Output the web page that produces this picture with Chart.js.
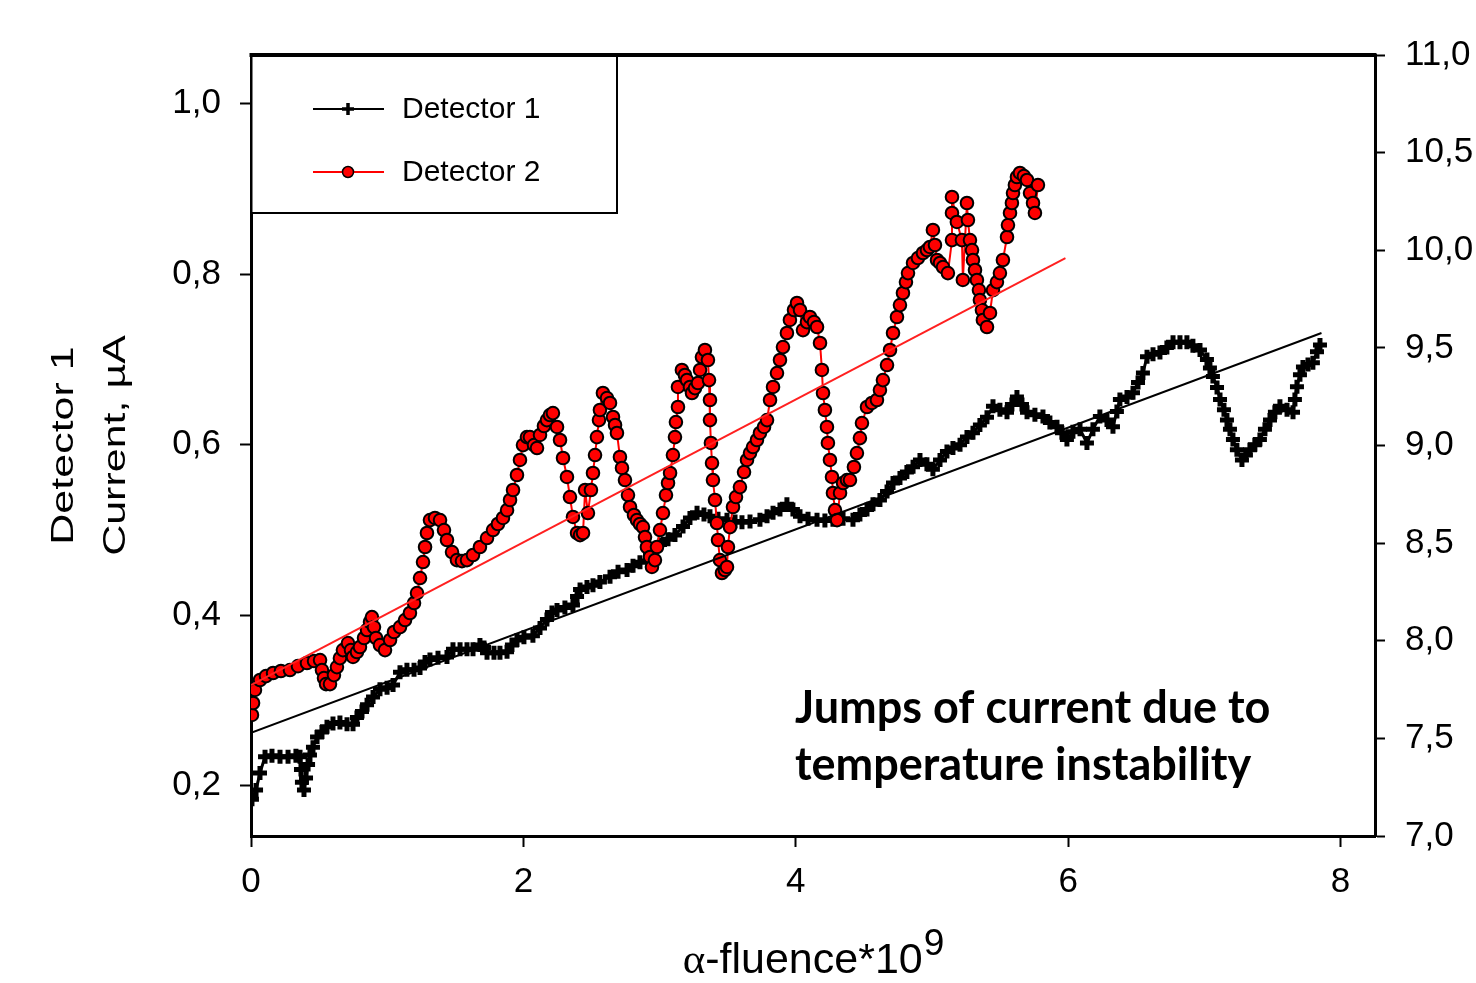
<!DOCTYPE html>
<html>
<head>
<meta charset="utf-8">
<script src="https://cdn.jsdelivr.net/npm/chart.js@4/dist/chart.umd.min.js"></script>
<style>
  html, body { margin: 0; padding: 0; background: #fff; }
  canvas { display: block; }
</style>
</head>
<body>
<canvas id="chart" width="1476" height="983"></canvas>
<script>
// Detector 1 (left axis, black crosses)
const det1X = [0.007,0.037,0.066,0.103,0.154,0.213,0.272,0.330,0.360,0.367,0.374,0.389,0.404,0.419,0.433,0.455,0.485,0.521,0.558,0.602,0.653,0.705,0.749,0.778,0.815,0.852,0.896,0.947,0.999,1.043,1.094,1.145,1.197,1.241,1.278,1.314,1.373,1.439,1.483,1.535,1.586,1.630,1.681,1.711,1.733,1.784,1.828,1.880,1.916,1.953,2.004,2.070,2.122,2.173,2.210,2.247,2.305,2.364,2.394,2.416,2.467,2.511,2.562,2.636,2.695,2.761,2.805,2.856,2.930,3.003,3.062,3.113,3.172,3.223,3.275,3.326,3.370,3.429,3.495,3.554,3.605,3.664,3.737,3.789,3.833,3.884,3.935,3.979,4.031,4.090,4.156,4.214,4.273,4.347,4.420,4.471,4.523,4.567,4.618,4.670,4.714,4.765,4.816,4.861,4.912,4.963,5.007,5.059,5.110,5.154,5.206,5.257,5.301,5.352,5.404,5.448,5.499,5.551,5.587,5.624,5.661,5.698,5.756,5.815,5.866,5.918,5.954,5.991,6.035,6.087,6.138,6.182,6.233,6.285,6.329,6.358,6.380,6.432,6.476,6.513,6.549,6.579,6.623,6.674,6.725,6.770,6.821,6.872,6.916,6.968,7.019,7.041,7.063,7.093,7.115,7.144,7.166,7.188,7.210,7.239,7.276,7.305,7.335,7.371,7.408,7.445,7.482,7.518,7.555,7.607,7.651,7.665,7.680,7.702,7.724,7.761,7.797,7.827,7.849];
const det1Y = [0.184,0.195,0.215,0.234,0.235,0.234,0.234,0.235,0.234,0.219,0.204,0.195,0.209,0.225,0.236,0.245,0.257,0.263,0.269,0.273,0.274,0.272,0.272,0.280,0.287,0.295,0.304,0.313,0.315,0.318,0.333,0.336,0.336,0.338,0.345,0.348,0.350,0.351,0.360,0.360,0.360,0.360,0.365,0.362,0.356,0.356,0.356,0.357,0.365,0.371,0.374,0.376,0.385,0.395,0.403,0.406,0.409,0.412,0.422,0.430,0.433,0.435,0.439,0.445,0.451,0.453,0.458,0.462,0.471,0.483,0.489,0.494,0.504,0.514,0.520,0.518,0.516,0.513,0.512,0.510,0.509,0.510,0.512,0.516,0.520,0.524,0.530,0.524,0.516,0.513,0.512,0.511,0.512,0.513,0.512,0.518,0.524,0.530,0.535,0.545,0.555,0.561,0.568,0.574,0.582,0.577,0.571,0.582,0.592,0.596,0.600,0.609,0.614,0.623,0.632,0.645,0.641,0.638,0.647,0.656,0.647,0.638,0.635,0.633,0.626,0.621,0.614,0.606,0.615,0.618,0.602,0.618,0.633,0.629,0.621,0.639,0.653,0.656,0.661,0.673,0.684,0.703,0.706,0.708,0.714,0.720,0.720,0.720,0.716,0.711,0.700,0.690,0.680,0.667,0.653,0.641,0.629,0.618,0.606,0.594,0.582,0.588,0.594,0.600,0.606,0.618,0.629,0.638,0.645,0.641,0.638,0.653,0.668,0.682,0.691,0.694,0.696,0.709,0.717];

// Detector 2 (right axis, red circles)
const det2X = [0.007,0.015,0.029,0.066,0.110,0.162,0.220,0.286,0.345,0.411,0.463,0.507,0.521,0.536,0.551,0.580,0.609,0.631,0.653,0.675,0.712,0.734,0.749,0.778,0.800,0.830,0.852,0.874,0.888,0.903,0.918,0.947,0.984,1.021,1.050,1.094,1.131,1.167,1.197,1.219,1.241,1.263,1.278,1.292,1.314,1.351,1.388,1.417,1.439,1.476,1.512,1.549,1.586,1.630,1.681,1.733,1.777,1.813,1.850,1.880,1.902,1.924,1.953,1.975,1.997,2.026,2.048,2.078,2.100,2.122,2.151,2.173,2.195,2.217,2.247,2.269,2.291,2.320,2.342,2.364,2.394,2.416,2.438,2.453,2.474,2.496,2.511,2.526,2.540,2.555,2.562,2.584,2.614,2.636,2.658,2.673,2.687,2.709,2.724,2.746,2.768,2.783,2.812,2.834,2.856,2.878,2.893,2.907,2.930,2.944,2.966,2.981,3.003,3.025,3.047,3.062,3.077,3.098,3.113,3.120,3.135,3.135,3.164,3.186,3.201,3.223,3.238,3.260,3.282,3.297,3.311,3.333,3.355,3.363,3.370,3.370,3.377,3.385,3.392,3.407,3.421,3.429,3.443,3.458,3.480,3.495,3.502,3.517,3.539,3.561,3.590,3.620,3.642,3.664,3.686,3.715,3.737,3.767,3.789,3.811,3.833,3.862,3.884,3.906,3.935,3.957,3.987,4.009,4.031,4.053,4.082,4.104,4.134,4.156,4.178,4.192,4.200,4.214,4.229,4.236,4.251,4.266,4.273,4.288,4.303,4.325,4.347,4.376,4.398,4.427,4.449,4.471,4.486,4.523,4.559,4.596,4.618,4.640,4.670,4.692,4.714,4.743,4.765,4.787,4.809,4.824,4.861,4.897,4.934,4.963,4.985,5.007,5.022,5.037,5.059,5.081,5.117,5.147,5.147,5.147,5.183,5.220,5.227,5.257,5.264,5.279,5.294,5.301,5.316,5.330,5.345,5.352,5.367,5.374,5.404,5.426,5.448,5.477,5.499,5.521,5.551,5.558,5.573,5.587,5.595,5.609,5.624,5.646,5.675,5.698,5.720,5.742,5.756,5.778];
const det2Y = [7.620,7.681,7.748,7.799,7.819,7.835,7.845,7.850,7.870,7.886,7.896,7.901,7.850,7.809,7.778,7.778,7.824,7.865,7.911,7.952,7.988,7.952,7.917,7.942,7.968,8.014,8.055,8.096,8.121,8.070,8.014,7.978,7.952,8.004,8.045,8.070,8.106,8.142,8.193,8.244,8.321,8.403,8.480,8.552,8.618,8.629,8.618,8.567,8.516,8.454,8.413,8.408,8.413,8.439,8.480,8.526,8.567,8.598,8.629,8.669,8.721,8.772,8.849,8.926,9.002,9.043,9.043,9.002,8.987,9.054,9.100,9.130,9.156,9.166,9.095,9.028,8.936,8.839,8.736,8.634,8.552,8.541,8.552,8.772,8.654,8.772,8.859,8.951,9.043,9.130,9.182,9.269,9.243,9.218,9.146,9.105,9.064,8.941,8.885,8.823,8.746,8.685,8.644,8.618,8.598,8.582,8.531,8.480,8.429,8.378,8.413,8.480,8.567,8.654,8.746,8.808,8.859,8.951,9.043,9.120,9.197,9.300,9.387,9.361,9.335,9.300,9.269,9.294,9.320,9.387,9.453,9.489,9.438,9.335,9.233,9.130,9.013,8.910,8.823,8.721,8.603,8.516,8.413,8.347,8.362,8.378,8.480,8.582,8.685,8.736,8.787,8.864,8.926,8.961,8.992,9.028,9.064,9.095,9.130,9.233,9.300,9.371,9.438,9.504,9.576,9.643,9.694,9.730,9.694,9.591,9.632,9.658,9.632,9.607,9.525,9.387,9.269,9.182,9.095,9.013,8.926,8.839,8.757,8.669,8.618,8.757,8.808,8.823,8.823,8.890,8.961,9.038,9.115,9.197,9.218,9.233,9.284,9.335,9.412,9.489,9.576,9.658,9.719,9.781,9.837,9.883,9.935,9.960,9.986,10.001,10.017,10.104,10.027,9.950,9.935,9.914,9.883,10.052,10.191,10.273,10.145,10.052,9.848,10.242,10.155,10.052,10.001,9.950,9.899,9.848,9.796,9.745,9.694,9.643,9.607,9.679,9.796,9.837,9.883,9.950,10.068,10.129,10.191,10.242,10.293,10.334,10.375,10.396,10.380,10.360,10.293,10.242,10.191,10.334];

// linear fits
const fit1X = [0, 7.86];
const fit1Y = [0.262, 0.731];
const fit2X = [0, 5.98];
const fit2Y = [7.773, 9.96];

const xTicks = [0, 2, 4, 6, 8];
const leftTicks = [0.2, 0.4, 0.6, 0.8, 1.0];
const rightTicks = [7.0, 7.5, 8.0, 8.5, 9.0, 9.5, 10.0, 10.5, 11.0];

const SANS = "'Liberation Sans', Arial, sans-serif";

function pts(xs, ys) {
  return xs.map((x, i) => ({ x: x, y: ys[i] }));
}
function comma(v) {
  return v.toFixed(1).replace(".", ",");
}
function fixedTicks(list) {
  return (scale) => { scale.ticks = list.map((v) => ({ value: v })); };
}

const extras = {
  id: "extras",
  afterDraw(chart) {
    const ctx = chart.ctx;
    const a = chart.chartArea;
    ctx.save();

    // top frame line
    ctx.strokeStyle = "#000";
    ctx.lineWidth = 4;
    ctx.beginPath();
    ctx.moveTo(a.left - 1.5, a.top);
    ctx.lineTo(a.right + 1.5, a.top);
    ctx.stroke();

    // legend box
    ctx.fillStyle = "#fff";
    ctx.fillRect(a.left + 1.5, a.top + 2, 364, 156);
    ctx.lineWidth = 2;
    ctx.strokeRect(a.left, a.top, 366, 158);

    ctx.font = "30px " + SANS;
    ctx.textBaseline = "middle";
    ctx.textAlign = "left";
    // Detector 1 entry
    ctx.strokeStyle = "#000";
    ctx.lineWidth = 2;
    ctx.beginPath(); ctx.moveTo(313, 109); ctx.lineTo(384, 109); ctx.stroke();
    ctx.lineWidth = 3.5;
    ctx.beginPath(); ctx.moveTo(348, 103); ctx.lineTo(348, 115); ctx.moveTo(342, 109); ctx.lineTo(354, 109); ctx.stroke();
    ctx.fillStyle = "#000";
    ctx.fillText("Detector 1", 402, 110);
    // Detector 2 entry
    ctx.strokeStyle = "#ff0000";
    ctx.lineWidth = 2;
    ctx.beginPath(); ctx.moveTo(313, 172); ctx.lineTo(384, 172); ctx.stroke();
    ctx.beginPath(); ctx.arc(348, 172, 5.5, 0, Math.PI * 2);
    ctx.fillStyle = "#ff0000"; ctx.fill();
    ctx.strokeStyle = "#000"; ctx.lineWidth = 1.5; ctx.stroke();
    ctx.fillStyle = "#000";
    ctx.fillText("Detector 2", 402, 173);

    // left axis title (two lines, rotated)
    ctx.textAlign = "center";
    ctx.textBaseline = "alphabetic";
    ctx.font = "43px " + SANS;
    [["Detector 1", 73], ["Current, \u00b5A", 125]].forEach(([t, bx]) => {
      ctx.save();
      ctx.translate(bx, (a.top + a.bottom) / 2);
      ctx.scale(0.75, 1);
      ctx.rotate(-Math.PI / 2);
      ctx.fillText(t, 0, 0);
      ctx.restore();
    });

    // x axis title with superscript
    ctx.textAlign = "left";
    ctx.font = "43px 'Liberation Serif', serif";
    const wA = ctx.measureText("\u03b1").width;
    ctx.font = "43px " + SANS;
    const wMain = ctx.measureText("-fluence*10").width;
    ctx.font = "37px " + SANS;
    const wSup = ctx.measureText("9").width;
    let x0 = (a.left + a.right) / 2 - (wA + wMain + wSup) / 2;
    ctx.font = "43px 'Liberation Serif', serif";
    ctx.fillText("\u03b1", x0, 973);
    ctx.font = "43px " + SANS;
    ctx.fillText("-fluence*10", x0 + wA, 973);
    ctx.font = "37px " + SANS;
    ctx.fillText("9", x0 + wA + wMain + 1, 955);

    // annotation
    ctx.font = "bold 45px Lato, 'Open Sans', sans-serif";
    ctx.fillText("Jumps of current due to", 795, 723);
    ctx.fillText("temperature instability", 795, 780);

    ctx.restore();
  },
};

const ctx = document.getElementById("chart").getContext("2d");
new Chart(ctx, {
  type: "scatter",
  data: {
    datasets: [
      {
        label: "fit 2",
        data: pts(fit2X, fit2Y),
        yAxisID: "y1",
        showLine: true,
        borderColor: "#ff2020",
        borderWidth: 2,
        pointRadius: 0,
      },
      {
        label: "fit 1",
        data: pts(fit1X, fit1Y),
        yAxisID: "y",
        showLine: true,
        borderColor: "#000",
        borderWidth: 2,
        pointRadius: 0,
      },
      {
        label: "Detector 2",
        data: pts(det2X, det2Y),
        yAxisID: "y1",
        showLine: true,
        borderColor: "#ff0000",
        borderWidth: 2,
        pointStyle: "circle",
        pointRadius: 6.3,
        pointBackgroundColor: "#ff0000",
        pointBorderColor: "#000",
        pointBorderWidth: 2,
      },
      {
        label: "Detector 1",
        data: pts(det1X, det1Y),
        yAxisID: "y",
        showLine: true,
        borderColor: "#000",
        borderWidth: 3,
        pointStyle: "cross",
        pointRadius: 7,
        pointBorderColor: "#000",
        pointBorderWidth: 5,
      },
    ],
  },
  options: {
    responsive: false,
    animation: false,
    layout: { padding: { top: 55, left: 0, right: 0, bottom: 0 } },
    plugins: {
      legend: { display: false },
      tooltip: { enabled: false },
    },
    scales: {
      x: {
        type: "linear",
        position: "bottom",
        min: 0,
        max: 8.253,
        afterBuildTicks: fixedTicks(xTicks),
        afterFit: (s) => { s.height = 147; },
        border: { color: "#000", width: 3 },
        grid: { drawOnChartArea: false, tickLength: 11, tickColor: "#000", tickWidth: 2 },
        ticks: {
          color: "#000",
          padding: 14,
          maxRotation: 0,
          font: { family: SANS, size: 35 },
          callback: (v) => String(v),
        },
      },
      y: {
        type: "linear",
        position: "left",
        min: 0.141,
        max: 1.057,
        afterBuildTicks: fixedTicks(leftTicks),
        afterFit: (s) => { s.width = 251; },
        border: { color: "#000", width: 3 },
        grid: { drawOnChartArea: false, tickLength: 11, tickColor: "#000", tickWidth: 2 },
        ticks: {
          color: "#000",
          padding: 19,
          font: { family: SANS, size: 35 },
          callback: (v) => comma(v),
        },
      },
      y1: {
        type: "linear",
        position: "right",
        min: 7,
        max: 11,
        afterBuildTicks: fixedTicks(rightTicks),
        afterFit: (s) => { s.width = 101; },
        border: { color: "#000", width: 3 },
        grid: { drawOnChartArea: false, tickLength: 10, tickColor: "#000", tickWidth: 2 },
        ticks: {
          color: "#000",
          padding: 20,
          font: { family: SANS, size: 35 },
          callback: (v) => comma(v),
        },
      },
    },
  },
  plugins: [extras],
});
</script>
</body>
</html>
